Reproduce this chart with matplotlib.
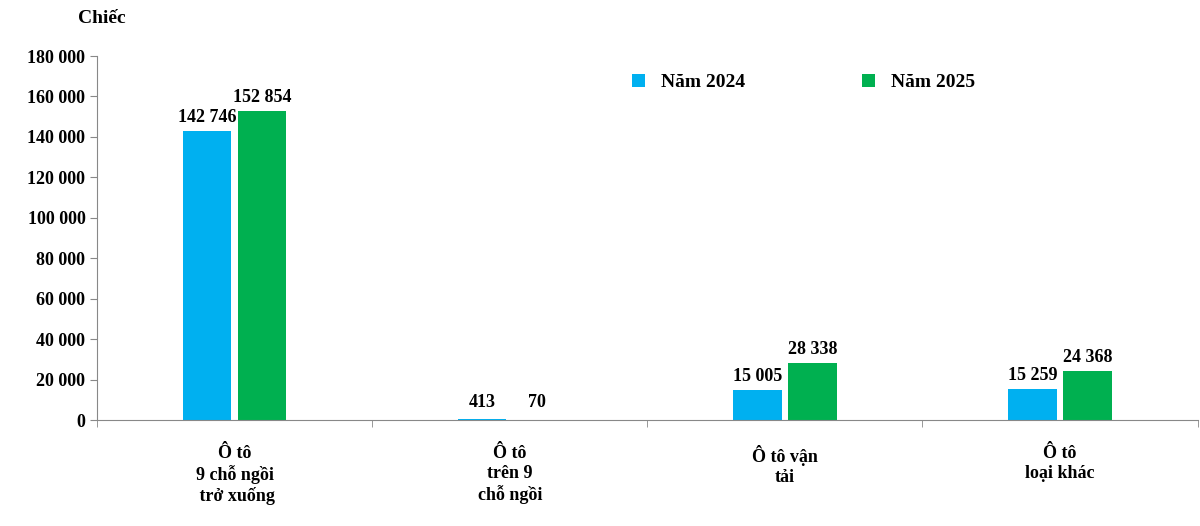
import matplotlib
matplotlib.use("Agg")
import matplotlib.pyplot as plt
from matplotlib.ticker import FuncFormatter, FixedLocator

plt.rcParams['font.family'] = ['Liberation Serif', 'DejaVu Serif']
plt.rcParams['font.weight'] = 'bold'

categories = ["Ô tô\n9 chỗ ngồi\n trở xuống", "Ô tô\ntrên 9\nchỗ ngồi", "Ô tô vận\ntải", "Ô tô\nloại khác"]
v2024 = [142746, 413, 15005, 15259]
v2025 = [152854, 70, 28338, 24368]
series = ["Năm 2024", "Năm 2025"]
yticks = list(range(0, 180001, 20000))

fig = plt.figure(figsize=(12, 5.26), dpi=100)
ax = fig.add_axes([0.081, 0.2015, 0.917, 0.692])
x = list(range(len(categories)))
w = 0.175
c1, c2 = '#00B0F0', '#00B050'
b1 = ax.bar([i - 0.1 for i in x], v2024, w, color=c1, label=series[0])
b2 = ax.bar([i + 0.1 for i in x], v2025, w, color=c2, label=series[1])

def fmt(v):
    return f"{v:,}".replace(",", " ")

for bars in (b1, b2):
    for r in bars:
        h = r.get_height()
        ax.text(r.get_x() + r.get_width() / 2, max(h, 2000) + 2500, fmt(int(h)),
                ha='center', va='bottom', fontsize=13, fontweight='bold')

ax.set_xlim(-0.5, 3.5)
ax.set_ylim(0, 180000)
ax.set_yticks(yticks)
ax.yaxis.set_major_formatter(FuncFormatter(lambda v, p: fmt(int(v))))
ax.set_xticks(x)
ax.set_xticklabels(categories, fontsize=13, fontweight='bold')
ax.tick_params(axis='x', length=0, pad=18)
ax.xaxis.set_minor_locator(FixedLocator([-0.5, 0.5, 1.5, 2.5, 3.5]))
ax.tick_params(axis='x', which='minor', length=5, direction='out', color='#888888')
ax.tick_params(axis='y', labelsize=13, length=5, direction='out', color='#888888')
for t in ax.get_yticklabels():
    t.set_fontweight('bold')
ax.spines['top'].set_visible(False)
ax.spines['right'].set_visible(False)
ax.spines['left'].set_color('#888888')
ax.spines['bottom'].set_color('#888888')

fig.text(0.065, 0.965, "Chiếc", fontsize=14, fontweight='bold', va='center')
ax.legend(loc='upper left', bbox_to_anchor=(0.47, 1.0), ncol=2, frameon=False,
          fontsize=14, handlelength=0.7, handleheight=0.7, columnspacing=6,
          prop={'weight': 'bold', 'size': 14})

fig.savefig("out.png", dpi=100)
